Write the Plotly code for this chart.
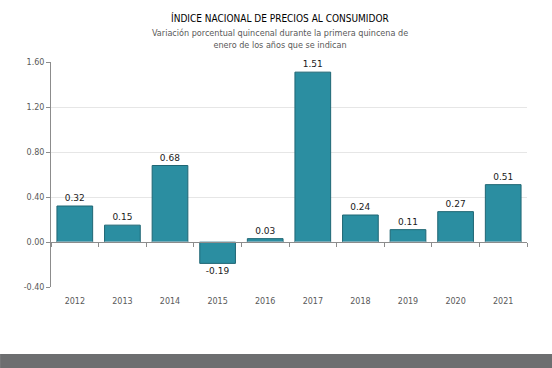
import plotly.graph_objects as go

years = ["2012", "2013", "2014", "2015", "2016", "2017", "2018", "2019", "2020", "2021"]
values = [0.32, 0.15, 0.68, -0.19, 0.03, 1.51, 0.24, 0.11, 0.27, 0.51]
labels = ["0.32", "0.15", "0.68", "-0.19", "0.03", "1.51", "0.24", "0.11", "0.27", "0.51"]
y_ticks = [-0.4, 0.0, 0.4, 0.8, 1.2, 1.6]
y_tick_text = ["-0.40", "0.00", "0.40", "0.80", "1.20", "1.60"]

title = "ÍNDICE NACIONAL DE PRECIOS AL CONSUMIDOR"
subtitle = "Variación porcentual quincenal durante la primera quincena de<br>enero de los años que se indican"

fig = go.Figure()
fig.add_trace(go.Bar(
    x=years, y=values, text=labels, textposition="outside",
    textfont=dict(family="DejaVu Sans", size=9, color="#1a1a1a"),
    marker=dict(color="#2b8ea1", line=dict(color="#1f6674", width=1)),
    cliponaxis=False, hoverinfo="skip", xaxis="x",
))
# invisible trace on label axis
fig.add_trace(go.Bar(x=years, y=[0]*len(years), xaxis="x2", showlegend=False,
                     hoverinfo="skip", marker=dict(color="rgba(0,0,0,0)")))

fig.update_layout(
    width=552, height=368,
    margin=dict(l=51, r=25, t=62, b=81, autoexpand=False),
    paper_bgcolor="white", plot_bgcolor="white",
    showlegend=False, bargap=0.25, barmode="overlay",
    xaxis=dict(type="category", categoryarray=years, anchor="free", position=0.2,
               showline=True, linecolor="#8c8c8c", linewidth=1, automargin=False,
               ticks="outside", tickson="boundaries", ticklen=4, tickcolor="#8c8c8c",
               showticklabels=False, showgrid=False, zeroline=False),
    xaxis2=dict(type="category", categoryarray=years, matches="x", overlaying="x",
                anchor="y", side="bottom", showline=False, ticks="", showgrid=False,
                automargin=False,
                tickfont=dict(family="DejaVu Sans", size=8, color="#595959"), ticklabelstandoff=8),
    yaxis=dict(range=[-0.4, 1.6], tickvals=y_ticks, ticktext=y_tick_text,
               showline=True, linecolor="#8c8c8c", linewidth=1, automargin=False,
               ticks="outside", ticklen=4, tickcolor="#8c8c8c",
               showgrid=True, gridcolor="#e6e6e6", gridwidth=1, zeroline=False,
               tickfont=dict(family="DejaVu Sans", size=8, color="#595959")),
    annotations=[
        dict(text=title, x=0.481, y=1.196, xref="paper", yref="paper", showarrow=False,
             font=dict(family="DejaVu Sans Condensed", size=10, color="#000000"),
             xanchor="center", yanchor="middle"),
        dict(text=subtitle, x=0.481, y=1.10, xref="paper", yref="paper", showarrow=False,
             font=dict(family="DejaVu Sans Condensed", size=9, color="#595959"),
             xanchor="center", yanchor="middle", align="center"),
    ],
    shapes=[
        dict(type="rect", xref="paper", yref="paper", x0=-0.107, x1=1.053, y0=-0.36, y1=-0.298,
             fillcolor="#6d6e70", line=dict(width=0), layer="above"),
    ],
)

fig.write_html("out.html", config={"displayModeBar": False},
               post_script="document.body.style.margin='0';")
